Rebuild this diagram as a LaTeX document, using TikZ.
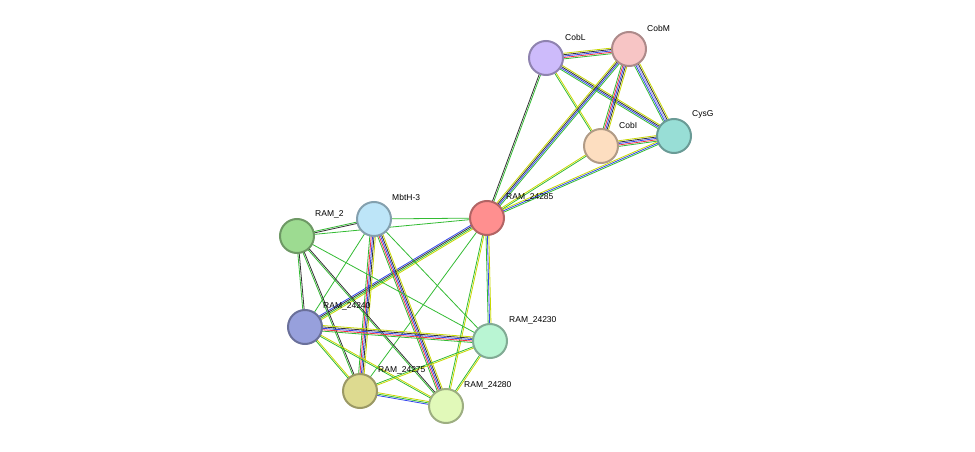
\documentclass[tikz,border=0pt]{standalone}
\usepackage{fontspec}
\setmainfont{Liberation Sans}
\usetikzlibrary{calc}
\definecolor{eg}{HTML}{33BB33}
\definecolor{er}{HTML}{EE3344}
\definecolor{eb}{HTML}{3344EE}
\definecolor{ek}{HTML}{333333}
\definecolor{ey}{HTML}{C8D800}
\definecolor{el}{HTML}{9999EE}
\newcommand\link[4]{%
  \foreach \col [count=\k] in {#4}{%
    \pgfmathsetmacro\off{(\k-(#3+1)/2)*1.4}
    \draw[\col,line width=0.8pt] ($(#1)!\off pt!90:(#2)$) -- ($(#2)!\off pt!-90:(#1)$);
  }}
\begin{document}
\begin{tikzpicture}[x=1pt,y=-1pt]

% ノードスタイル
\tikzset{
  prot/.style={circle, draw=#1!70!black, fill=#1, line width=2pt, minimum size=34pt, inner sep=0pt},
  lbl/.style={anchor=west, font=\fontsize{8.5}{10}\selectfont, inner sep=0pt}
}
\definecolor{cCobL}{HTML}{CDBBFB}
\definecolor{cCobM}{HTML}{F7C5C5}
\definecolor{cCysG}{HTML}{98DED6}
\definecolor{cCobI}{HTML}{FDDEC0}
\definecolor{cR85}{HTML}{FF8F8F}
\definecolor{cMbtH}{HTML}{BDE5F8}
\definecolor{cR45}{HTML}{9DDB91}
\definecolor{cR40}{HTML}{97A0DC}
\definecolor{cR30}{HTML}{B9F5D3}
\definecolor{cR75}{HTML}{DDDA90}
\definecolor{cR80}{HTML}{E1F9B9}

\useasboundingbox (0,0) rectangle (975,452);

% ===== 位置 =====
\coordinate (cobl) at (546,58);
\coordinate (cobm) at (629,49);
\coordinate (cysg) at (674,136);
\coordinate (cobi) at (601,146);
\coordinate (r85) at (487,218);
\coordinate (mbth) at (374,219);
\coordinate (r45) at (297,236);
\coordinate (r40) at (305,327);
\coordinate (r30) at (490,341);
\coordinate (r75) at (360,391);
\coordinate (r80) at (446,406);

% ===== 結合 =====
\link{cobl}{cobm}{5}{eg,er,eb,ek,ey}
\link{cobl}{cysg}{4}{eg,eb,ek,ey}
\link{cobl}{cobi}{2}{eg,ey}
\link{cobm}{cysg}{5}{eg,eb,el,ek,ey}
\link{cobm}{cobi}{5}{eg,er,eb,ek,ey}
\link{cobi}{cysg}{5}{eg,er,eb,ek,ey}
\link{r85}{cobl}{2}{eg,ek}
\link{r85}{cobm}{4}{eg,eb,ek,ey}
\link{r85}{cobi}{2}{eg,ey}
\link{r85}{cysg}{3}{eg,eb,ey}
\link{r85}{mbth}{1}{eg}
\link{r85}{r45}{1}{eg}
\link{r85}{r40}{4}{eb,ek,eg,ey}
\link{r85}{r30}{3}{eg,eb,ey}
\link{r85}{r75}{1}{eg}
\link{r85}{r80}{2}{eg,ey}
\link{mbth}{r45}{2}{eg,ek}
\link{mbth}{r40}{1}{eg}
\link{mbth}{r30}{1}{eg}
\link{mbth}{r75}{5}{eg,er,eb,ek,ey}
\link{mbth}{r80}{5}{eg,er,eb,ek,ey}
\link{r45}{r40}{2}{eg,ek}
\link{r45}{r75}{2}{eg,ek}
\link{r45}{r80}{2}{eg,ek}
\link{r45}{r30}{1}{eg}
\link{r40}{r30}{5}{eg,er,eb,ek,ey}
\link{r40}{r75}{2}{eg,ey}
\link{r40}{r80}{2}{eg,ey}
\link{r30}{r75}{2}{eg,ey}
\link{r30}{r80}{2}{eg,ey}
\link{r75}{r80}{3}{eb,eg,ey}

% ===== タンパク質 =====
\node[lbl] (t45) at (315,214) {RAM\_2};
\foreach \n/\c in {cobl/cCobL, cobm/cCobM, cysg/cCysG, cobi/cCobI, r85/cR85,
  r45/cR45, mbth/cMbtH, r40/cR40, r30/cR30, r75/cR75, r80/cR80} {
  \node[prot=\c] (n\n) at (\n) {};
}
\node[lbl] (tcobl) at (565,37) {CobL};
\node[lbl] (tcobm) at (647,28) {CobM};
\node[lbl] (tcysg) at (692,114) {CysG};
\node[lbl] (tcobi) at (619,125) {CobI};
\node[lbl] (t85) at (506,197) {RAM\_24285};
\node[lbl] (tmbth) at (392,197) {MbtH-3};
\node[lbl] (t40) at (323,306) {RAM\_24240};
\node[lbl] (t30) at (509,320) {RAM\_24230};
\node[lbl] (t75) at (378,370) {RAM\_24275};
\node[lbl] (t80) at (464,385) {RAM\_24280};

\end{tikzpicture}
\end{document}
